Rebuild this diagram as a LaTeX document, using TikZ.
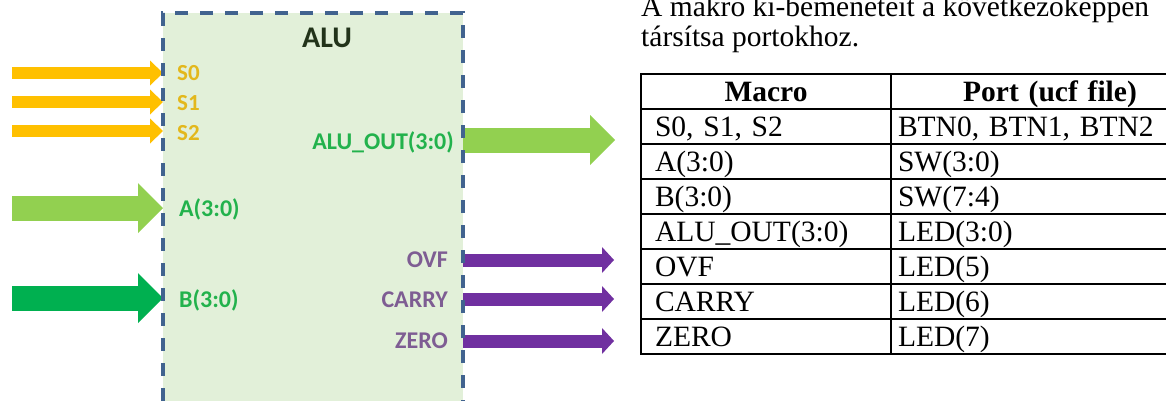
\documentclass[tikz,border=0pt]{standalone}
\usepackage{fontspec}
\setmainfont{Liberation Serif}
\newfontfamily\portfont{Carlito}
\usetikzlibrary{arrows.meta, positioning, matrix, backgrounds}
\definecolor{BoxFill}{HTML}{E2F0D9}
\definecolor{BoxEdge}{HTML}{41638F}
\definecolor{TitleInk}{HTML}{22331A}
\definecolor{SelFill}{HTML}{FFC000}
\definecolor{SelText}{HTML}{E3B81C}
\definecolor{DataLight}{HTML}{92D050}
\definecolor{DataDark}{HTML}{00B050}
\definecolor{DataText}{HTML}{22B24C}
\definecolor{FlagFill}{HTML}{7030A0}
\definecolor{FlagText}{HTML}{7E5D93}
\newcommand\tablefont{\fontsize{29.5}{31}\selectfont}
\tikzset{
  alubox/.style={minimum width=300pt, minimum height=400pt, inner sep=0pt,
    outer sep=0pt, fill=BoxFill, draw=BoxEdge, line width=3.5pt,
    dash pattern=on 13pt off 12pt},
  inport/.style={anchor=base west, inner sep=0pt,
    font=\portfont\bfseries\fontsize{24}{26}\selectfont},
  outport/.style={inport, anchor=base east},
  selarrow/.style={draw=SelFill, line width=12.5pt,
    -{Triangle[length=13pt, width=25pt, line width=0pt]}},
  dataarrow/.style={draw=#1, line width=25pt,
    -{Triangle[length=25pt, width=50pt, line width=0pt]}},
  flagarrow/.style={draw=FlagFill, line width=13pt,
    -{Triangle[length=12pt, width=26pt, line width=0pt]}},
  cell/.style={draw, line width=2.5pt, align=left, font=\tablefont,
    minimum height=35pt, text height=27pt, text depth=8pt, inner ysep=0pt},
  head/.style={align=center, font=\tablefont\bfseries},
}

\begin{document}
\begin{tikzpicture}[x=1pt, y=-1pt]
  \useasboundingbox (0,0) rectangle (1166,400);

  % ALU block (runs off the bottom)
  \node[alubox, anchor=north west] (alu) at (163,13) {};
  \node[anchor=base, inner sep=0pt, text=TitleInk,
    font=\portfont\bfseries\fontsize{30}{31}\selectfont] (title) at (327,47) {ALU};

  % inputs
  \foreach \sig/\y/\base in {S0/73/80, S1/102/110, S2/131/140} {
    \node[inport, text=SelText, font=\portfont\bfseries\fontsize{23}{25}\selectfont]
      (\sig) at (177,\base) {\sig};
    \coordinate (\sig src) at (12,\y);
    \begin{scope}[on background layer]
      \draw[selarrow] (\sig src) -- (\sig src -| alu.west);
    \end{scope}
  }
  \node[inport, text=DataText] (A) at (179,216) {A(3:0)};
  \node[inport, text=DataText] (B) at (179,307) {B(3:0)};
  \coordinate (A src) at (12,208);
  \coordinate (B src) at (12,298);

  % outputs
  \node[outport, text=DataText] (aluout) at (454,149) {ALU\_OUT(3:0)};
  \coordinate (aluout dst) at (615,140);
  \foreach \sig/\y/\base in {OVF/260/267, CARRY/299/307, ZERO/341/348} {
    \node[outport, text=FlagText] (\sig) at (448,\base) {\sig};
    \coordinate (\sig dst) at (614,\y);
    \begin{scope}[on background layer]
      \draw[flagarrow] (\sig dst -| alu.east) -- (\sig dst);
    \end{scope}
  }

  \begin{scope}[on background layer]
    \draw[dataarrow=DataLight] (A src) -- (A src -| alu.west);
    \draw[dataarrow=DataDark] (B src) -- (B src -| alu.west);
    \draw[dataarrow=DataLight] (aluout dst -| alu.east) -- (aluout dst);
  \end{scope}

  % note and port table
  \node[anchor=base west, inner sep=0pt, font=\tablefont] (note1) at (641,16)
    {A makró ki-bemeneteit a következőképpen};
  \node[anchor=base west, inner sep=0pt, font=\tablefont] (note2) at (641,46)
    {társítsa portokhoz.};

  \matrix (ports) [matrix of nodes, anchor=north west, inner sep=0pt,
    outer sep=0pt, row sep=-2.5pt, column sep=-2.5pt, nodes={cell},
    column 1/.style={nodes={text width=222pt, inner xsep=14pt}},
    column 2/.style={nodes={text width=304pt, inner xsep=7pt}}]
    at (639.75,72.75) {
    |[head]| Macro & |[head]| Port (ucf file) \\
    S0, S1, S2 & BTN0, BTN1, BTN2 \\
    A(3:0) & SW(3:0) \\
    B(3:0) & SW(7:4) \\
    ALU\_OUT(3:0) & LED(3:0) \\
    OVF & LED(5) \\
    CARRY & LED(6) \\
    ZERO & LED(7) \\
  };
\end{tikzpicture}
\end{document}
